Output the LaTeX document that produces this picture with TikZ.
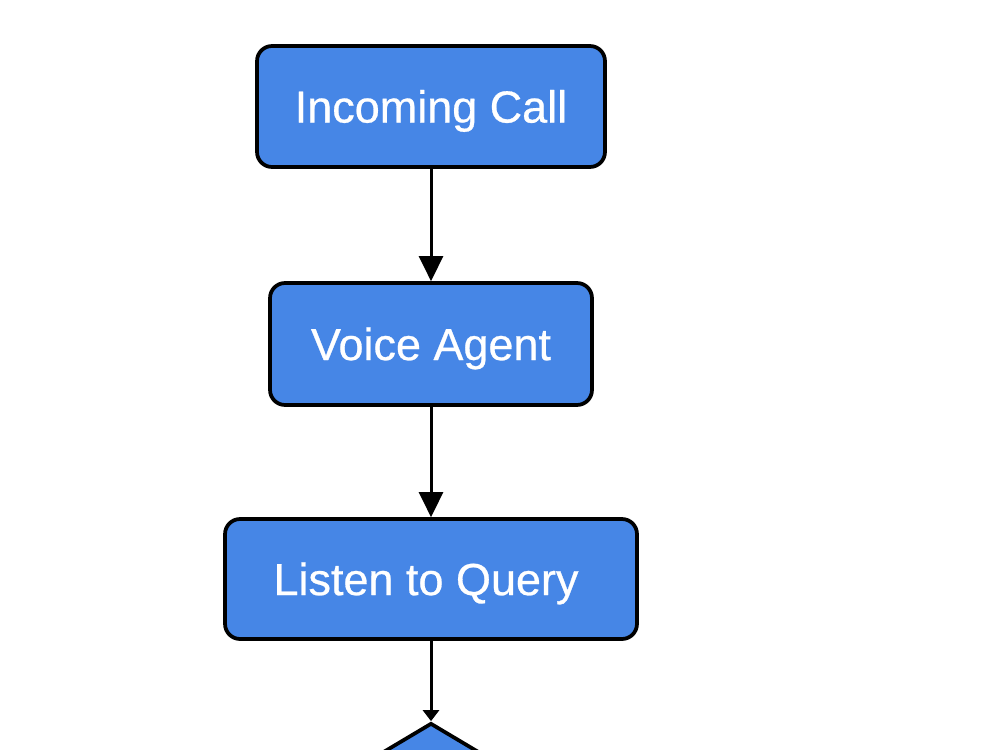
\documentclass[tikz,border=0pt]{standalone}
\usepackage{fontspec}
\setmainfont{Liberation Sans}
\newfontfamily\boxfont[FakeBold=0.6]{Liberation Sans}
\usetikzlibrary{shapes.geometric,arrows.meta}
\definecolor{boxblue}{HTML}{4686E6}
\tikzset{
  flowbox/.style={draw=black, fill=boxblue, line width=0.075cm, rounded corners=0.3cm,
    text=white, font=\boxfont\fontsize{25.6pt}{30pt}\selectfont, text height=18.3pt, text depth=0pt,
    inner sep=0pt},
  arr/.style={draw=black, line width=0.06cm, -{Triangle[width=0.48cm,length=0.5cm]}},
  arrsmall/.style={draw=black, line width=0.06cm, -{Triangle[width=0.32cm,length=0.22cm]}},
  decision/.style={diamond, draw=black, fill=boxblue, line width=0.075cm, inner sep=0pt,
    minimum width=6.7cm, minimum height=4cm}
}
\begin{document}
\begin{tikzpicture}[x=0.02cm,y=-0.02cm]
\useasboundingbox (0,0) rectangle (1000,750);
\clip (0,0) rectangle (1000,750);
\fill[white] (0,0) rectangle (1000,750);
\node[flowbox, minimum width=6.96cm, minimum height=2.42cm] (call) at (431,106.5) {Incoming Call};
\node[flowbox, minimum width=6.44cm, minimum height=2.44cm] (agent) at (431,344) {Voice Agent};
\node[flowbox, minimum width=8.24cm, minimum height=2.40cm] (listen) at (431,579) {\hspace*{-0.2cm}Listen to Query};
\node[decision] (dec) at (431,823) {};
\draw[arr] (call) -- (agent);
\draw[arr] (agent) -- (listen);
\draw[arrsmall] (listen) -- (dec.north);
\end{tikzpicture}
\end{document}
